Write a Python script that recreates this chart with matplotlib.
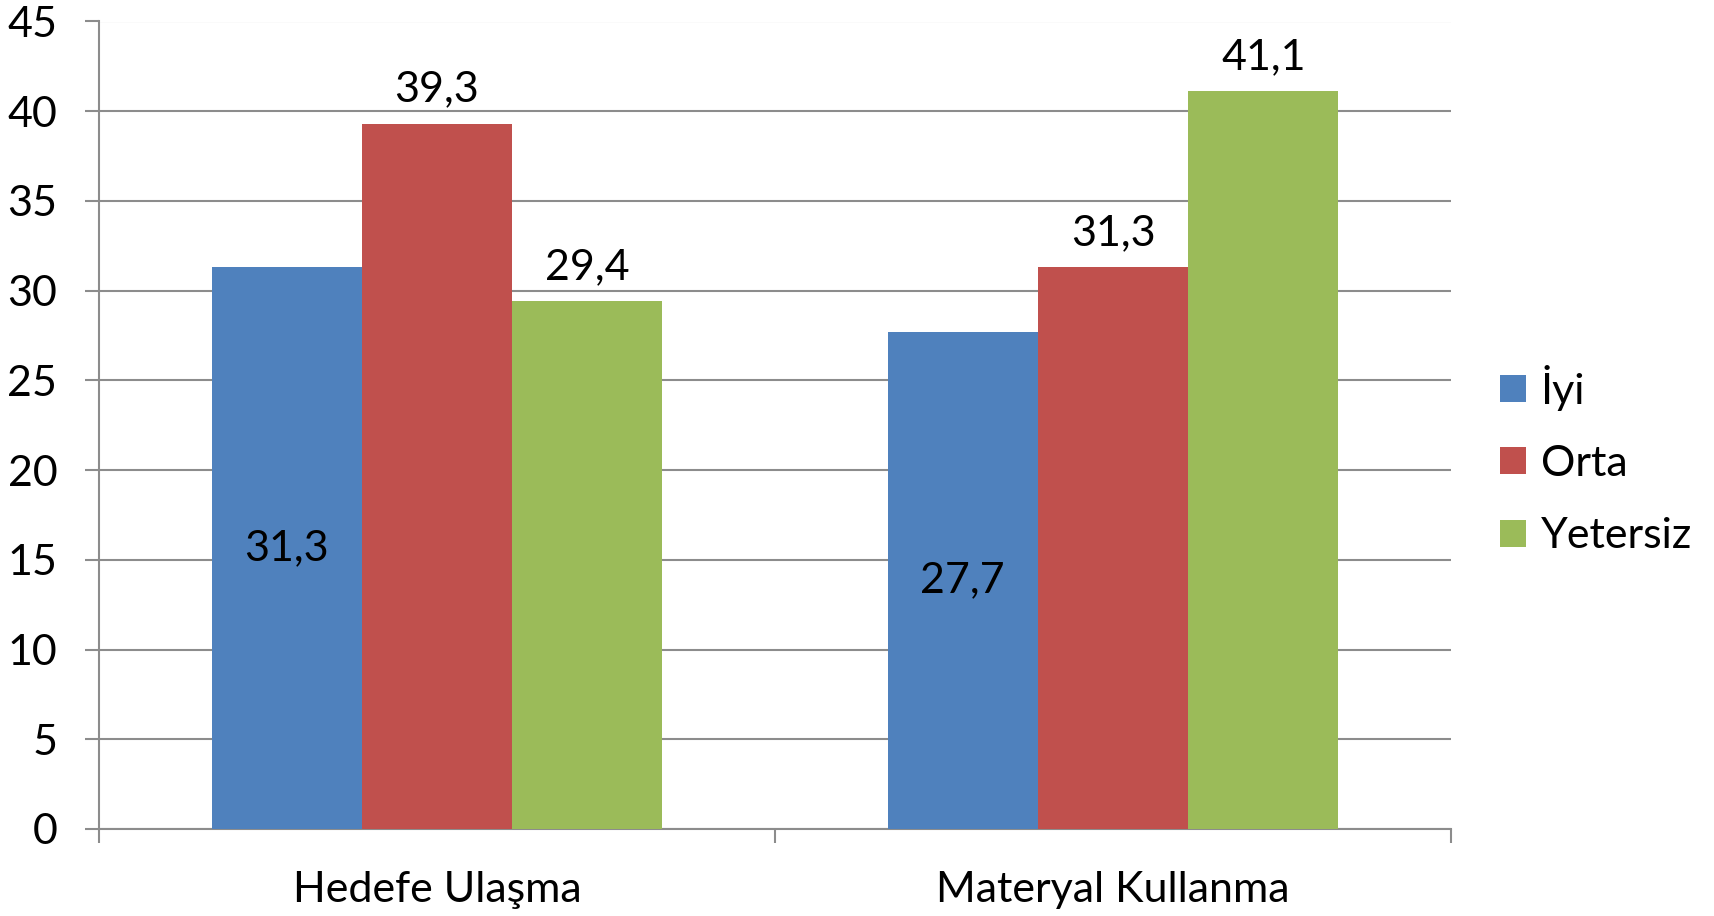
import matplotlib
matplotlib.use("Agg")
import matplotlib.pyplot as plt
import numpy as np

categories = ["Hedefe Ulaşma", "Materyal Kullanma"]
series_names = ["İyi", "Orta", "Yetersiz"]
iyi = [31.3, 27.7]
orta = [39.3, 31.3]
yetersiz = [29.4, 41.1]
colors = ["#4F81BD", "#C0504D", "#9BBB59"]
yticks = [0, 5, 10, 15, 20, 25, 30, 35, 40, 45]

plt.rcParams['font.family'] = ['Lato', 'DejaVu Sans']
FS = 31

fig = plt.figure(figsize=(17.15, 9.16), dpi=100)
ax = fig.add_axes([99/1715, 1-829/916, (1451-99)/1715, (829-21.5)/916])

x = np.arange(len(categories))
w = 1/4.5
grid_c = "#8c8c8c"
for i, (vals, name, c) in enumerate(zip([iyi, orta, yetersiz], series_names, colors)):
    pos = x + (i-1)*w
    ax.bar(pos, vals, width=w, color=c, label=name, zorder=3, linewidth=0)
    for p, v in zip(pos, vals):
        txt = f"{v:.1f}".replace(".", ",")
        if i == 0:
            ax.text(p, v/2, txt, ha="center", va="center", fontsize=FS, zorder=4)
        else:
            ax.annotate(txt, (p, v), xytext=(0, 11), textcoords="offset points",
                        ha="center", va="bottom", fontsize=FS, zorder=4)

ax.set_xlim(-0.5, 1.5)
ax.set_ylim(0, 45)
ax.set_yticks(yticks)
ax.set_yticklabels([str(t) for t in yticks], fontsize=FS)
ax.yaxis.grid(True, color=grid_c, linewidth=1.5, zorder=0)
ax.set_xticks([-0.5, 0.5, 1.5])
ax.set_xticklabels([])
ax.set_xticks(x, minor=True)
ax.set_xticklabels(categories, minor=True, fontsize=FS)
ax.tick_params(axis="x", which="minor", length=0, pad=30)
ax.tick_params(axis="x", which="major", length=10, width=1.5, color=grid_c, direction="out")
ax.tick_params(axis="y", length=10, width=1.5, color=grid_c, direction="out", pad=20)
for s in ["top", "right"]:
    ax.spines[s].set_visible(False)
for s in ["left", "bottom"]:
    ax.spines[s].set_color(grid_c)
    ax.spines[s].set_linewidth(1.5)
ax.set_axisbelow(True)

fig.legend(loc="center left", bbox_to_anchor=(1500/1715, 1-460/916), frameon=False,
           fontsize=FS, handlelength=0.6, handleheight=0.6, handletextpad=0.35,
           labelspacing=0.8, borderpad=0, borderaxespad=0)

fig.savefig("out.png", dpi=100)
